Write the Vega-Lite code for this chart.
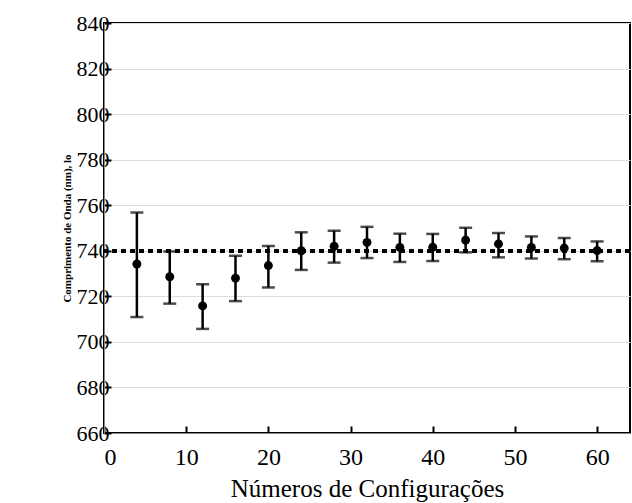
{
  "$schema": "https://vega.github.io/schema/vega-lite/v6.json",
  "width": 526,
  "height": 410,
  "autosize": "none",
  "padding": {"left": 104, "top": 23, "right": 2, "bottom": 70},
  "background": "white",
  "config": {
    "view": {"stroke": "black", "strokeWidth": 2}
  },
  "data": {
    "values": [
      {"n": 4, "y": 734.2, "lo": 710.9, "hi": 756.8},
      {"n": 8, "y": 728.6, "lo": 716.8, "hi": 739.7},
      {"n": 12, "y": 715.8, "lo": 705.7, "hi": 725.3},
      {"n": 16, "y": 728.0, "lo": 717.9, "hi": 737.8},
      {"n": 20, "y": 733.5, "lo": 723.9, "hi": 742.1},
      {"n": 24, "y": 740.0, "lo": 731.6, "hi": 748.1},
      {"n": 28, "y": 742.0, "lo": 734.8, "hi": 748.8},
      {"n": 32, "y": 743.7, "lo": 736.8, "hi": 750.5},
      {"n": 36, "y": 741.5, "lo": 735.1, "hi": 747.5},
      {"n": 40, "y": 741.6, "lo": 735.5, "hi": 747.4},
      {"n": 44, "y": 744.7, "lo": 739.3, "hi": 750.1},
      {"n": 48, "y": 743.0, "lo": 737.1, "hi": 747.8},
      {"n": 52, "y": 741.5, "lo": 736.6, "hi": 746.3},
      {"n": 56, "y": 741.2, "lo": 736.3, "hi": 745.6},
      {"n": 60, "y": 740.1, "lo": 735.4, "hi": 744.1}
    ]
  },
  "layer": [
    {
      "mark": {"type": "point", "filled": true, "color": "black", "opacity": 1, "size": 80},
      "encoding": {
        "x": {"field": "n", "type": "quantitative", "scale": {"domain": [0, 64], "nice": false},
          "axis": {"title": "Números de Configurações", "titleFont": "Liberation Serif", "labelFont": "Liberation Serif", "labelFontSize": 24,
            "tickSize": -7, "tickColor": "#000", "tickWidth": 2, "tickCount": 7, "gridOpacity": 0,
            "labelPadding": 19, "titleFontSize": 25, "titleFontWeight": "normal", "titlePadding": 7}},
        "y": {"field": "y", "type": "quantitative", "scale": {"domain": [660, 840], "nice": false, "zero": false},
          "axis": {"title": "Comprimento de Onda (nm)", "titleFont": "Liberation Serif", "labelFont": "Liberation Serif", "labelFontSize": 22,
            "tickSize": -7, "tickColor": "black", "tickWidth": 2}}
      }
    },
    {
      "mark": {"type": "errorbar", "ticks": {"size": 13, "thickness": 2.5, "color": "black"}, "rule": {"strokeWidth": 2.5, "color": "black"}},
      "encoding": {
        "x": {"field": "n", "type": "quantitative"},
        "y": {"field": "lo", "type": "quantitative"},
        "y2": {"field": "hi"}
      }
    },
    {
      "mark": {"type": "rule", "color": "black", "strokeWidth": 2.7, "strokeDash": [5, 4]},
      "encoding": {
        "y": {"datum": 740, "type": "quantitative"}
      }
    }
  ]
}
